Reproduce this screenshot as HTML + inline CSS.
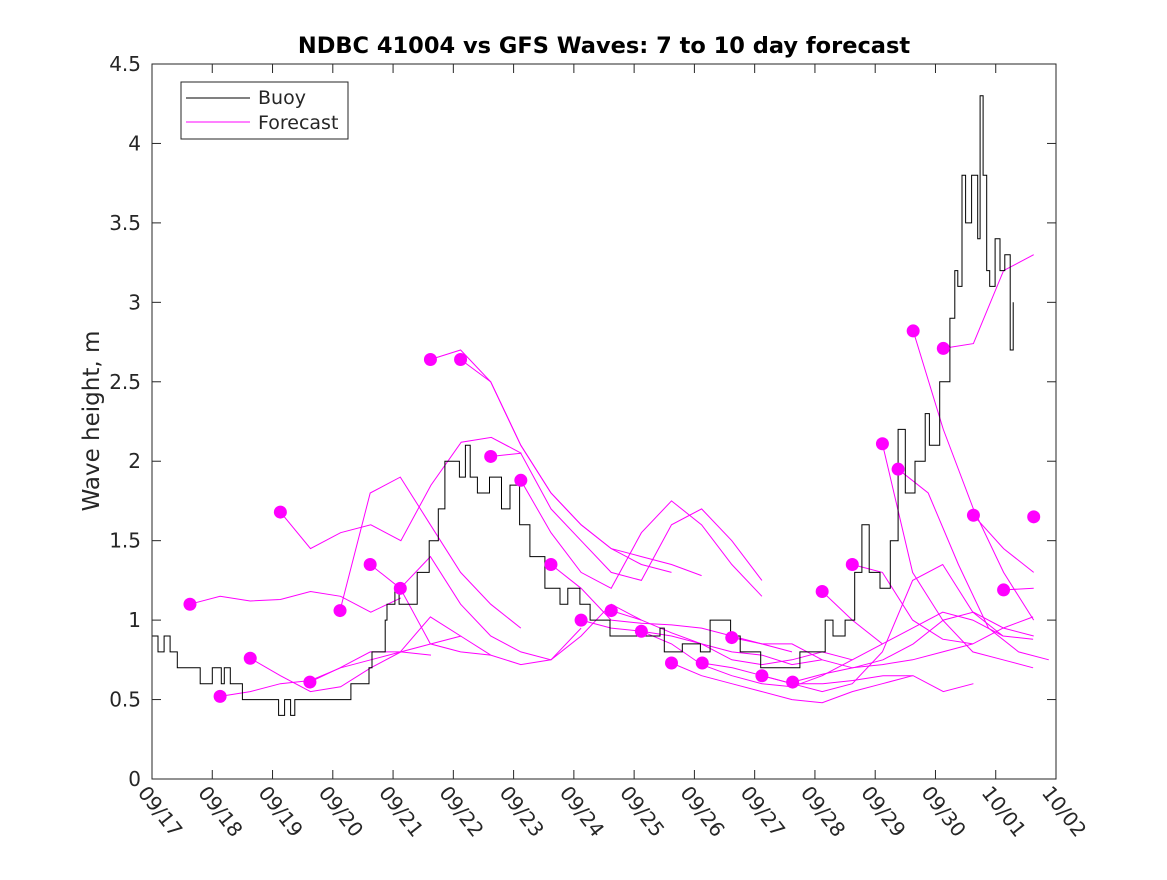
<!DOCTYPE html>
<html><head><meta charset="utf-8"><style>
body{margin:0;background:#fff;}
svg text{font-family:"DejaVu Sans","Liberation Sans",sans-serif;fill:#262626;}
</style></head><body>
<svg id="chart" width="1167" height="875" xmlns="http://www.w3.org/2000/svg">
<rect width="1167" height="875" fill="#fff"/>
<text x="604" y="53" text-anchor="middle" font-size="22.5" font-weight="bold" style="fill:#000">NDBC 41004 vs GFS Waves: 7 to 10 day forecast</text>
<text transform="translate(99,421) rotate(-90)" text-anchor="middle" font-size="23">Wave height, m</text>
<g id="grid"></g>
<g id="series"></g>
<rect x="152" y="64" width="904" height="715" fill="none" stroke="#262626" stroke-width="1"/>
<g>
<rect x="181" y="82" width="167" height="57" fill="#fff" stroke="#262626"/>
<line x1="186" y1="98" x2="250" y2="98" stroke="#000"/>
<text x="258" y="104" font-size="19">Buoy</text>
<line x1="186" y1="122" x2="250" y2="122" stroke="#ff00ff"/>
<text x="258" y="129" font-size="19">Forecast</text>
</g>
</svg>
<script>
const xTickLabels=["09/17","09/18","09/19","09/20","09/21","09/22","09/23","09/24","09/25","09/26","09/27","09/28","09/29","09/30","10/01","10/02"];
const yTicks=[0,0.5,1,1.5,2,2.5,3,3.5,4,4.5];
const buoyT=[0,0.1,0.2,0.3,0.42,0.75,0.8,0.95,1.0,1.15,1.2,1.3,1.46,1.5,2.04,2.1,2.2,2.3,2.37,2.95,3.3,3.6,3.65,3.87,3.9,4.03,4.1,4.28,4.4,4.6,4.75,4.86,5.0,5.1,5.2,5.28,5.4,5.6,5.8,5.94,6.1,6.27,6.52,6.77,6.9,7.1,7.27,7.6,8.1,8.43,8.5,8.8,9.1,9.26,9.42,9.6,9.76,9.92,10.1,10.6,10.75,11.17,11.3,11.5,11.66,11.78,11.9,12.08,12.25,12.38,12.5,12.66,12.83,12.9,13.07,13.24,13.32,13.37,13.44,13.5,13.6,13.7,13.74,13.79,13.85,13.9,13.99,14.07,14.15,14.24,14.29];
const buoyV=[0.9,0.8,0.9,0.8,0.7,0.7,0.6,0.6,0.7,0.6,0.7,0.6,0.6,0.5,0.5,0.4,0.5,0.4,0.5,0.5,0.6,0.7,0.8,1.0,1.1,1.2,1.1,1.1,1.3,1.5,1.7,2.0,2.0,1.9,2.1,1.9,1.8,1.9,1.7,1.85,1.6,1.4,1.2,1.1,1.2,1.1,1.0,0.9,0.9,0.95,0.8,0.85,0.8,1.0,1.0,0.9,0.8,0.8,0.7,0.7,0.8,1.0,0.9,1.0,1.3,1.6,1.3,1.2,1.5,2.2,1.8,2.0,2.3,2.1,2.5,2.9,3.2,3.1,3.8,3.5,3.8,3.4,4.3,3.8,3.2,3.1,3.4,3.2,3.3,2.7,3.0];
const fcStart=[0.63,1.13,1.63,2.13,2.62,3.12,3.62,4.12,4.62,5.12,5.62,6.12,6.62,7.12,7.62,8.12,8.62,9.13,9.62,10.12,10.63,11.12,11.62,12.12,12.38,12.63,13.13,13.63,14.13,14.63];
const fcVals=[
[1.10,1.15,1.12,1.13,1.18,1.15,1.05,1.14],
[0.52,0.55,0.6,0.62,0.7,0.75,0.8,0.78],
[0.76,0.65,0.55,0.58,0.7,0.8,0.85,0.9],
[1.68,1.45,1.55,1.6,1.5,1.85,2.12,2.15,2.05],
[0.61,0.7,0.8,0.8,1.02,0.9,0.78],
[1.06,1.8,1.9,1.6,1.3,1.1,0.95],
[1.35,1.2,0.85,0.8,0.78,0.72,0.75,0.95],
[1.2,1.4,1.1,0.9,0.8,0.75,0.9,1.1,1.0],
[2.64,2.7,2.5,2.1,1.8,1.6,1.45,1.35,1.3],
[2.64,2.5,2.1,1.8,1.6,1.45,1.4,1.35,1.28],
[2.03,2.05,1.7,1.5,1.3,1.25,1.6,1.7,1.5,1.25],
[1.88,1.55,1.3,1.2,1.55,1.75,1.6,1.35,1.15],
[1.35,1.2,1.0,0.98,0.97,0.95,0.9,0.85,0.8],
[1.0,0.95,0.93,0.9,0.85,0.8,0.78,0.72,0.75],
[1.06,1.0,0.92,0.85,0.75,0.72,0.75,0.8,0.75],
[0.93,0.85,0.72,0.65,0.6,0.58,0.65,0.75,0.85],
[0.73,0.65,0.6,0.55,0.5,0.48,0.55,0.6,0.65],
[0.73,0.7,0.65,0.6,0.6,0.62,0.65,0.65,0.55,0.6],
[0.89,0.85,0.85,0.75,0.7,0.72,0.75,0.8,0.85],
[0.65,0.6,0.55,0.6,0.8,1.25,1.35,1.05,0.9],
[0.61,0.66,0.7,0.75,0.85,1.0,1.05,0.95,0.9],
[1.18,1.0,0.85,0.95,1.05,1.0,0.9,0.88,0.85],
[1.35,1.3,1.0,0.88,0.85,0.95,1.02,1.0,0.9],
[2.11,1.3,1.0,0.8,0.75,0.7,0.8,0.7,0.72],
[1.95,1.8,1.35,0.95,0.8,0.75,0.68,0.65,0.8],
[2.82,2.2,1.7,1.3,1.0,0.88,0.8,0.7,0.75],
[2.71,2.74,3.2,3.3,3.2,3.3,3.55,3.62,3.63],
[1.66,1.45,1.3,1.2,1.22,1.7,2.35,2.55,2.6],
[1.19,1.2,1.25,1.4,1.2,1.8,2.0,2.2],
[1.65,1.6,1.55,1.55]
];
const X0=152,X1=1056,Y0=779,Y1=64;
const xs=d=>X0+(X1-X0)*d/15;
const ys=v=>Y0-(Y0-Y1)*v/4.5;
const NS="http://www.w3.org/2000/svg";
const grid=document.getElementById('grid'),ser=document.getElementById('series');
function mk(tag,attrs,parent){const e=document.createElementNS(NS,tag);for(const k in attrs)e.setAttribute(k,attrs[k]);parent.appendChild(e);return e;}
yTicks.forEach(v=>{
  const y=ys(v);
  const t=mk('line',{x1:X0,x2:X0+9,y1:y,y2:y,stroke:'#262626'},grid);
  
  
  mk('line',{x1:X1,x2:X1-9,y1:y,y2:y,stroke:'#262626'},grid);
  const l=mk('text',{x:X0-11,y:y+7,'text-anchor':'end','font-size':'20'},grid);
  
  
  l.textContent=String(v);
});
xTickLabels.forEach((s,i)=>{
  const x=xs(i);
  const t=mk('line',{x1:x,x2:x,y1:Y0,y2:Y0-9,stroke:'#262626'},grid);
  
  
  mk('line',{x1:x,x2:x,y1:Y1,y2:Y1+9,stroke:'#262626'},grid);
  const l=mk('text',{transform:`translate(${x-15},${Y0+14}) rotate(52)`,'font-size':'20'},grid);
  
  
  l.textContent=s;
});
fcVals.forEach((vals,i)=>{
  const pts=[];
  vals.forEach((v,j)=>{const d=fcStart[i]+j*0.5;if(d<=15)pts.push(xs(d).toFixed(1)+','+ys(v).toFixed(1));});
  const p=mk('polyline',{points:pts.join(' '),fill:'none',stroke:'#ff00ff','stroke-width':1},ser);
  
  
});
let bp=[];
buoyT.forEach((t,i)=>{
  if(i>0)bp.push(xs(t).toFixed(1)+','+ys(buoyV[i-1]).toFixed(1));
  bp.push(xs(t).toFixed(1)+','+ys(buoyV[i]).toFixed(1));
});
const b=mk('polyline',{points:bp.join(' '),fill:'none',stroke:'#000','stroke-width':1},ser);


fcStart.forEach((d,i)=>{
  const c=mk('circle',{cx:xs(d),cy:ys(fcVals[i][0]),r:6.5,fill:'#ff00ff'},ser);
  
  
});
</script>
</body></html>
